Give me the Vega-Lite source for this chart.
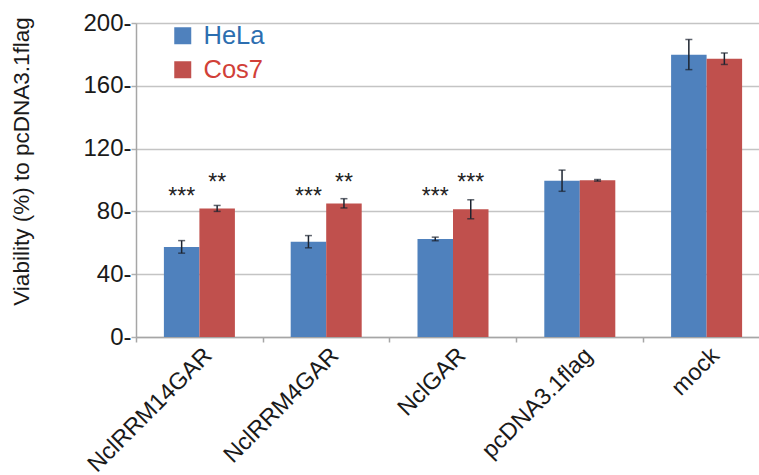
{
  "$schema": "https://vega.github.io/schema/vega-lite/v6.json",
  "width": 634,
  "height": 314,
  "autosize": "none",
  "padding": {"left": 136, "top": 23, "right": -11, "bottom": 138},
  "background": "white",
  "config": {
    "font": "Liberation Sans",
    "view": {"stroke": null}
  },
  "data": {
    "values": [
      {"construct": "NclRRM14GAR", "cell": "HeLa", "viability": 57.4, "lo": 53.4, "hi": 61.4, "sig": "***"},
      {"construct": "NclRRM14GAR", "cell": "Cos7", "viability": 81.9, "lo": 80.0, "hi": 83.8, "sig": "**"},
      {"construct": "NclRRM4GAR", "cell": "HeLa", "viability": 60.7, "lo": 56.8, "hi": 64.6, "sig": "***"},
      {"construct": "NclRRM4GAR", "cell": "Cos7", "viability": 85.1, "lo": 82.2, "hi": 88.1, "sig": "**"},
      {"construct": "NclGAR", "cell": "HeLa", "viability": 62.5, "lo": 61.3, "hi": 63.6, "sig": "***"},
      {"construct": "NclGAR", "cell": "Cos7", "viability": 81.3, "lo": 75.3, "hi": 87.4, "sig": "***"},
      {"construct": "pcDNA3.1flag", "cell": "HeLa", "viability": 99.5, "lo": 92.8, "hi": 106.3, "sig": ""},
      {"construct": "pcDNA3.1flag", "cell": "Cos7", "viability": 99.8, "lo": 99.3, "hi": 100.3, "sig": ""},
      {"construct": "mock", "cell": "HeLa", "viability": 179.8, "lo": 170.3, "hi": 189.5, "sig": ""},
      {"construct": "mock", "cell": "Cos7", "viability": 177.2, "lo": 173.6, "hi": 180.9, "sig": ""}
    ]
  },
  "encoding": {
    "x": {
      "field": "construct",
      "type": "nominal",
      "sort": null,
      "scale": {"paddingInner": 0.44, "paddingOuter": 0.22},
      "axis": {
        "title": null,
        "bandPosition": 0,
        "tickOffset": -28,
        "labelOffset": 28,
        "labelAngle": -45,
        "labelAlign": "right",
        "labelBaseline": "top",
        "labelFontSize": 23.5,
        "labelColor": "#1a1a1a",
        "labelPadding": 1,
        "domainColor": "#a6a6a6",
        "domainWidth": 1.5,
        "tickColor": "#a6a6a6",
        "tickWidth": 1.5,
        "tickSize": 5,
        "grid": false
      }
    },
    "xOffset": {"field": "cell", "type": "nominal", "scale": {"domain": ["HeLa", "Cos7"]}}
  },
  "layer": [
    {
      "mark": {"type": "bar"},
      "encoding": {
        "y": {
          "field": "viability",
          "type": "quantitative",
          "scale": {"domain": [0, 200], "nice": false},
          "axis": {
            "title": "Viability (%) to pcDNA3.1flag",
            "titleFontSize": 22.5,
            "titleFontWeight": "normal",
            "titleColor": "#1a1a1a",
            "titleAngle": -90,
            "titleX": -108,
            "titleY": 138,
            "titleAlign": "center",
            "titleBaseline": "alphabetic",
            "values": [0, 20, 40, 60, 80, 100, 120, 140, 160, 180, 200],
            "labelExpr": "datum.value % 40 === 0 ? datum.value + '-' : ''",
            "labelFontSize": 24,
            "labelColor": "#1a1a1a",
            "labelPadding": 0,
            "tickSize": 5,
            "tickColor": "#b0b0b0",
            "tickWidth": 1.5,
            "domainColor": "#a6a6a6",
            "domainWidth": 1.5,
            "gridColor": "#c4c4c4",
            "gridWidth": 1.5
          }
        },
        "color": {
          "field": "cell",
          "type": "nominal",
          "scale": {"domain": ["HeLa", "Cos7"], "range": ["#4f81bd", "#c0504d"]},
          "legend": {
            "title": null,
            "orient": "none",
            "legendX": 34,
            "legendY": 0,
            "symbolType": "square",
            "symbolSize": 289,
            "symbolStrokeWidth": 0,
            "labelFontSize": 25.5,
            "labelOffset": 8,
            "rowPadding": 7,
            "labelBaseline": "middle",
            "encode": {
              "symbols": {"update": {"fill": {"signal": "datum.label === 'HeLa' ? '#1c83c5' : '#d52a20'"}, "opacity": {"value": 1}}},
              "labels": {"update": {"fill": {"signal": "datum.label === 'HeLa' ? '#2c6eb0' : '#d13f38'"}}}
            }
          }
        }
      }
    },
    {
      "mark": {"type": "rule", "color": "#1c2430", "strokeWidth": 1.5},
      "encoding": {
        "y": {"field": "lo", "type": "quantitative"},
        "y2": {"field": "hi"}
      }
    },
    {
      "mark": {"type": "tick", "color": "#1c2430", "thickness": 1.5, "size": 7},
      "encoding": {"y": {"field": "lo", "type": "quantitative"}}
    },
    {
      "mark": {"type": "tick", "color": "#1c2430", "thickness": 1.5, "size": 7},
      "encoding": {"y": {"field": "hi", "type": "quantitative"}}
    },
    {
      "transform": [{"filter": "datum.cell === 'HeLa'"}],
      "mark": {"type": "text", "fontSize": 23, "color": "#222222", "baseline": "middle", "align": "center"},
      "encoding": {
        "y": {"datum": 89},
        "text": {"field": "sig"}
      }
    },
    {
      "transform": [{"filter": "datum.cell === 'Cos7'"}],
      "mark": {"type": "text", "fontSize": 23, "color": "#222222", "baseline": "middle", "align": "center"},
      "encoding": {
        "y": {"datum": 98},
        "text": {"field": "sig"}
      }
    }
  ]
}
